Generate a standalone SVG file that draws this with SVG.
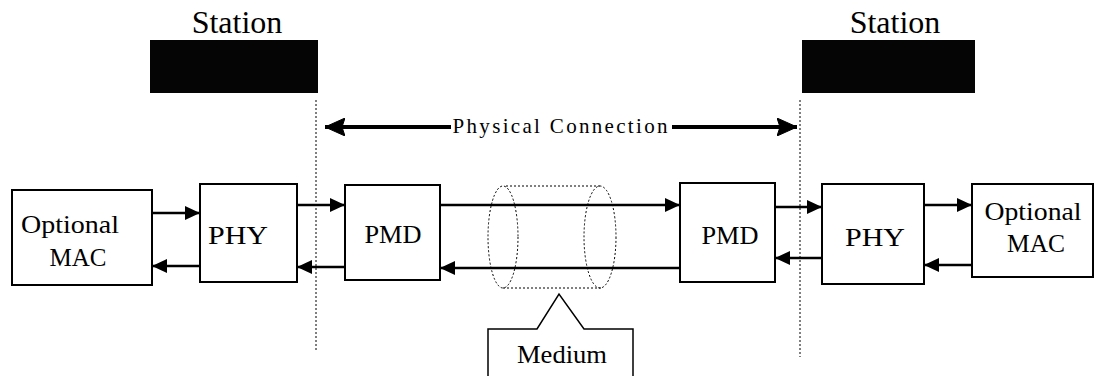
<svg xmlns="http://www.w3.org/2000/svg" width="1096" height="376" viewBox="0 0 1096 376">
<defs>
<style>
.box{fill:#fff;stroke:#000;stroke-width:2}
.ln{stroke:#000;stroke-width:2.5;fill:none}
.dot{stroke:#000;stroke-width:1;stroke-dasharray:2,2;fill:none}
</style>
<marker id="ah" markerUnits="userSpaceOnUse" markerWidth="16" markerHeight="14" refX="15" refY="7" orient="auto">
<path d="M0,0 L15,7 L0,14 z" fill="#000"/>
</marker>
<marker id="big" markerUnits="userSpaceOnUse" markerWidth="22" markerHeight="18" refX="20" refY="9" orient="auto-start-reverse">
<path d="M0,0 L20,9 L0,18 L3,9 z" fill="#000" stroke="#000" stroke-width="1" stroke-linejoin="round"/>
</marker>
</defs>
<rect width="1096" height="376" fill="#fff"/>
<g font-family="'Liberation Serif', 'Times New Roman', serif" fill="#000">
<g id="station-left">
<text x="237" y="33" font-size="32" text-anchor="middle">Station</text>
<rect x="150" y="40" width="168" height="53" fill="#050505"/>
</g>
<g id="station-right">
<text x="895" y="33" font-size="32" text-anchor="middle">Station</text>
<rect x="802" y="40" width="173" height="53" fill="#050505"/>
</g>

<g id="boundaries">
<line class="dot" x1="316" y1="100" x2="316" y2="350"/>
<line class="dot" x1="800" y1="100" x2="800" y2="357"/>
</g>

<g id="physical-connection">
<line x1="451" y1="127" x2="325" y2="127" stroke="#000" stroke-width="4" marker-end="url(#big)"/>
<line x1="672" y1="127" x2="797" y2="127" stroke="#000" stroke-width="4" marker-end="url(#big)"/>
<text x="560" y="133" text-anchor="middle" font-size="21" textLength="215" lengthAdjust="spacing">Physical Connection</text>
</g>

<g id="mac-left">
<rect class="box" x="12" y="190" width="140" height="95"/>
<text x="70" y="233" font-size="26" text-anchor="middle" textLength="98" lengthAdjust="spacingAndGlyphs">Optional</text>
<text x="78" y="266" font-size="26" text-anchor="middle" textLength="57" lengthAdjust="spacingAndGlyphs">MAC</text>
</g>
<g id="phy-left">
<rect class="box" x="200" y="184" width="97" height="98"/>
<text x="238" y="244" font-size="26" text-anchor="middle" textLength="60" lengthAdjust="spacingAndGlyphs">PHY</text>
</g>
<g id="pmd-left">
<rect class="box" x="345" y="185" width="95" height="95"/>
<text x="393" y="243" font-size="26" text-anchor="middle" textLength="57" lengthAdjust="spacingAndGlyphs">PMD</text>
</g>
<g id="pmd-right">
<rect class="box" x="680" y="183" width="95" height="99"/>
<text x="730" y="244" font-size="26" text-anchor="middle" textLength="57" lengthAdjust="spacingAndGlyphs">PMD</text>
</g>
<g id="phy-right">
<rect class="box" x="822" y="184" width="102" height="100"/>
<text x="875" y="246" font-size="26" text-anchor="middle" textLength="60" lengthAdjust="spacingAndGlyphs">PHY</text>
</g>
<g id="mac-right">
<rect class="box" x="972" y="184" width="121" height="93"/>
<text x="1033" y="220" font-size="26" text-anchor="middle" textLength="97" lengthAdjust="spacingAndGlyphs">Optional</text>
<text x="1036" y="252" font-size="26" text-anchor="middle" textLength="58" lengthAdjust="spacingAndGlyphs">MAC</text>
</g>

<g id="medium">
<ellipse class="dot" cx="503" cy="237" rx="15" ry="51"/>
<ellipse class="dot" cx="600" cy="237" rx="16" ry="51"/>
<line class="dot" x1="506" y1="186" x2="600" y2="186"/>
<line class="dot" x1="503" y1="288" x2="603" y2="288"/>
<path d="M488,376 L488,329 L537,329 L559,294 L584,329 L633,329 L633,376" fill="none" stroke="#000" stroke-width="1.5"/>
<text x="562" y="363" font-size="26" text-anchor="middle" textLength="90" lengthAdjust="spacingAndGlyphs">Medium</text>
</g>
</g>
<g id="connectors">
<line class="ln" x1="152" y1="213" x2="200" y2="213" marker-end="url(#ah)"/>
<line class="ln" x1="200" y1="266" x2="152" y2="266" marker-end="url(#ah)"/>
<line class="ln" x1="297" y1="205" x2="345" y2="205" marker-end="url(#ah)"/>
<line class="ln" x1="345" y1="267" x2="297" y2="267" marker-end="url(#ah)"/>
<line class="ln" x1="440" y1="205" x2="680" y2="205" marker-end="url(#ah)"/>
<line class="ln" x1="680" y1="268" x2="440" y2="268" marker-end="url(#ah)"/>
<line class="ln" x1="775" y1="207" x2="822" y2="207" marker-end="url(#ah)"/>
<line class="ln" x1="822" y1="258" x2="775" y2="258" marker-end="url(#ah)"/>
<line class="ln" x1="924" y1="205" x2="972" y2="205" marker-end="url(#ah)"/>
<line class="ln" x1="972" y1="265" x2="924" y2="265" marker-end="url(#ah)"/>
</g>
</svg>
